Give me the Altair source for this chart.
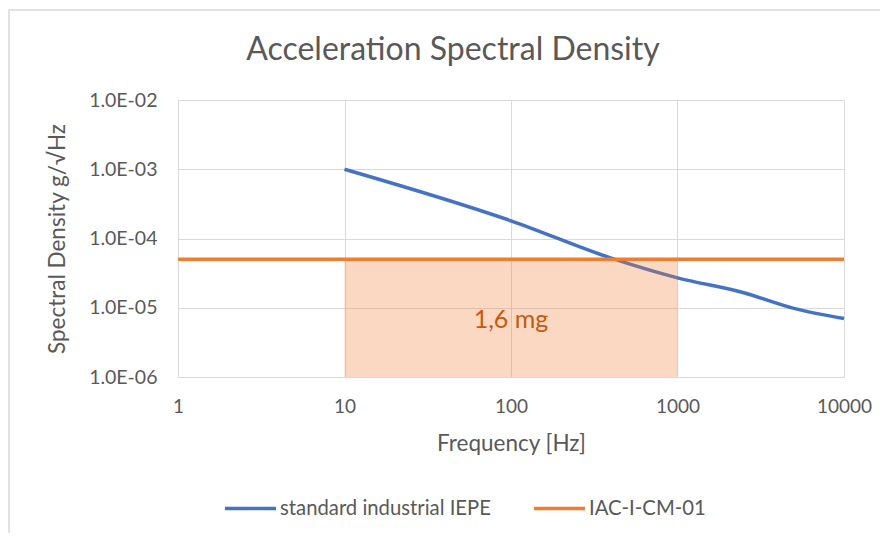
import altair as alt
import pandas as pd

# Data
blue_name = "standard industrial IEPE"
orange_name = "IAC-I-CM-01"
blue_freq = [10, 100, 400, 1000, 2500, 5000, 10000]
blue_psd = [1.0e-3, 1.8e-4, 5.2e-5, 2.7e-5, 1.65e-5, 9.8e-6, 7.0e-6]
orange_freq = [1, 10000]
orange_psd = [5e-5, 5e-5]
band_x = [10, 1000]
band_y = [1e-6, 5e-5]
band_label = "1,6 mg"
label_pos = [100, 6.7e-6]
y_ticks = [1e-6, 1e-5, 1e-4, 1e-3, 1e-2]
x_ticks = [1, 10, 100, 1000, 10000]

W, H = 666, 277
PL, PT = 170, 92
FONT = "Lato"
GREY = "#595959"

lines = pd.DataFrame({
    "f": blue_freq + orange_freq,
    "v": blue_psd + orange_psd,
    "s": [blue_name] * len(blue_freq) + [orange_name] * len(orange_freq),
    "o": list(range(len(blue_freq))) + list(range(len(orange_freq))),
})
blue_df = lines[lines.s == blue_name]
orange_df = lines[lines.s == orange_name]
band_df = pd.DataFrame({"x": [band_x[0]], "x2": [band_x[1]], "y": [band_y[0]], "y2": [band_y[1]]})
lab_df = pd.DataFrame({"x": [label_pos[0]], "y": [label_pos[1]], "t": [band_label]})

xscale = alt.Scale(type="log", domain=[1, 10000])
yscale = alt.Scale(type="log", domain=[1e-6, 1e-2])
color = alt.Color("s:N", scale=alt.Scale(domain=[blue_name, orange_name], range=["#4472C4", "#ED7D31"]),
                  legend=alt.Legend(title=None, orient="none", direction="horizontal",
                                    legendX=45, legendY=381, symbolType="stroke",
                                    symbolSize=2600, symbolStrokeWidth=3.5, labelFontSize=20.3,
                                    labelColor=GREY, labelFont=FONT, columnPadding=36,
                                    labelOffset=2, padding=0, labelLimit=0))

xax = alt.Axis(values=x_ticks, labelExpr="datum.value", title="Frequency [Hz]", grid=True,
               gridColor="#D9D9D9", domain=False, ticks=False, labelPadding=20,
               labelFontSize=19, labelColor=GREY, labelFont=FONT, titleFontSize=22.5,
               titleColor=GREY, titleFont=FONT, titleFontWeight="normal", titlePadding=16,
               labelFlush=False)
yax = alt.Axis(values=y_ticks, labelExpr="'1.0E-0' + toString(round(-log(datum.value)/LN10))",
               title="Spectral Density g/\u221aHz", grid=True, gridColor="#D9D9D9", domain=False,
               ticks=False, labelPadding=21, labelFontSize=19.5, labelColor=GREY, labelFont=FONT,
               titleFontSize=22.5, titleColor=GREY, titleFont=FONT, titleFontWeight="normal",
               titlePadding=19)

border = alt.Chart(pd.DataFrame({"a": [0]})).mark_rect(filled=False, stroke="#D9D9D9", strokeWidth=1.5).encode(
    x=alt.value(-PL + 1), x2=alt.value(W + 200), y=alt.value(-PT + 2), y2=alt.value(H + 300))

blue = alt.Chart(blue_df).mark_line(strokeWidth=3.5, interpolate="monotone").encode(
    x=alt.X("f:Q", scale=xscale, axis=xax), y=alt.Y("v:Q", scale=yscale, axis=yax),
    color=color, order="o:Q")

band = alt.Chart(band_df).mark_rect(color="#ED7D31", opacity=0.3).encode(
    x=alt.X("x:Q", scale=xscale), x2="x2", y=alt.Y("y:Q", scale=yscale), y2="y2")

orange = alt.Chart(orange_df).mark_line(strokeWidth=3.5).encode(
    x=alt.X("f:Q", scale=xscale), y=alt.Y("v:Q", scale=yscale), color=color, order="o:Q")

label = alt.Chart(lab_df).mark_text(fontSize=25, color="#C55A11", font=FONT).encode(
    x=alt.X("x:Q", scale=xscale), y=alt.Y("y:Q", scale=yscale), text="t:N")

title = alt.Chart(pd.DataFrame({"t": ["Acceleration Spectral Density"]})).mark_text(
    fontSize=32, color=GREY, font=FONT).encode(x=alt.value(275), y=alt.value(-50), text="t:N")

chart = alt.layer(border, blue, band, orange, label, title).properties(
    width=W, height=H,
    autosize=alt.AutoSizeParams(type="none"),
    padding={"left": PL, "top": PT, "right": 872 - PL - W, "bottom": 525 - PT - H},
).configure_view(stroke=None).configure(background="white")

chart.save("out.html", embed_options={"renderer": "svg", "actions": False})
